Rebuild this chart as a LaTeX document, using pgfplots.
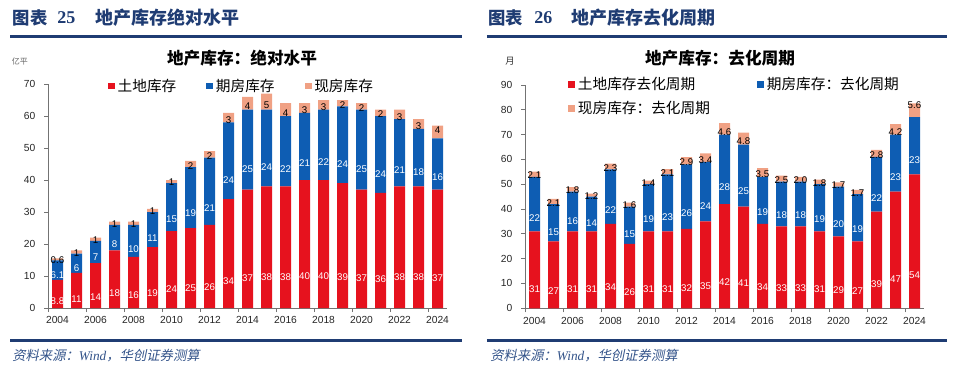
\documentclass[border=0pt]{standalone}
\usepackage{pgfplots}
\pgfplotsset{compat=1.18}
\usepackage{pgfplotstable}
\usepackage{fontspec}
\setmainfont{Liberation Sans}
\newfontfamily\cjk{Noto Sans CJK SC}
\newfontfamily\cjkit[FakeSlant=0.2]{Noto Sans CJK SC}
\newfontfamily\tms{Liberation Serif}
\definecolor{cred}{HTML}{E6121E}
\definecolor{cblue}{HTML}{0E5DB3}
\definecolor{corange}{HTML}{F0A184}
\definecolor{hdr}{HTML}{1F3C73}
\definecolor{foot}{HTML}{34548A}

% exm: label value of the 现房 segment; negative = label set above the bar
\pgfplotstableread{
year land fut ex exm
2004 8.8 6.1 0.6 0.6
2005 11 6 1 1
2006 14 7 1 1
2007 18 8 1 1
2008 16 10 1 1
2009 19 11 1 1
2010 24 15 1 1
2011 25 19 2 2
2012 26 21 2 2
2013 34 24 3 3
2014 37 25 4 4
2015 38 24 5 5
2016 38 22 4 4
2017 40 21 3 3
2018 40 22 3 3
2019 39 24 2 2
2020 37 25 2 2
2021 36 24 2 2
2022 38 21 3 3
2023 38 18 3 3
2024 37 16 4 -4
}\leftdata

\pgfplotstableread{
year land fut ex exm
2004 31 22 2.1 2.1
2005 27 15 2.1 2.1
2006 31 16 1.8 1.8
2007 31 14 1.2 1.2
2008 34 22 2.3 2.3
2009 26 15 1.6 1.6
2010 31 19 1.4 1.4
2011 31 23 2.1 2.1
2012 32 26 2.9 2.9
2013 35 24 3.4 3.4
2014 42 28 4.6 4.6
2015 41 25 4.8 4.8
2016 34 19 3.5 3.5
2017 33 18 2.5 2.5
2018 33 18 2.0 2.0
2019 31 19 1.8 1.8
2020 29 20 1.7 1.7
2021 27 19 1.7 1.7
2022 39 22 2.8 2.8
2023 47 23 4.2 4.2
2024 54 23 5.6 -5.6
}\rightdata

\tikzset{lbl/.style={font=\fontsize{7.3}{8}\selectfont, anchor=center, inner sep=0pt}}

\pgfplotsset{
  panel/.style={
    anchor=south west,
    x=14.25pt,
    xmin=2003.5, xmax=2024.5, ymin=0,
    ybar stacked, bar width=8.25pt,
    axis x line*=bottom, axis y line*=left,
    axis line style={draw=black!55, line width=0.6pt},
    xtick={2004,2006,...,2024},
    minor xtick={2003.5,2005.5,...,2023.5},
    tick align=outside,
    major tick length=3pt, minor tick length=3pt,
    tick style={draw=black!55, line width=0.6pt},
    major x tick style={draw=none},
    ticklabel style={font=\fontsize{7.7}{9}\selectfont, text=black!85},
    x tick label style={/pgf/number format/1000 sep={}},
    yticklabel style={xshift=-3pt},
    /pgf/number format/assume math mode=true,
    clip=false,
    point meta=explicit symbolic,
    nodes near coords,
    legend cell align=left,
    legend image code/.code={\fill[##1,draw=none] (0pt,-2.6pt) rectangle (5.2pt,2.6pt);},
  },
}

\begin{document}
\begin{tikzpicture}
\path[use as bounding box] (0pt,0pt) rectangle (720pt,-282pt);

% headers
\node[anchor=west, inner sep=0pt, text=hdr, font=\cjk\bfseries\fontsize{13}{15}\selectfont] at (9.5pt,-13.1pt) {图表};
\node[anchor=west, inner sep=0pt, text=hdr, font=\tms\bfseries\fontsize{13.5}{15}\selectfont] at (42.8pt,-13.1pt) {25};
\node[anchor=west, inner sep=0pt, text=hdr, font=\cjk\bfseries\fontsize{13.5}{15}\selectfont] at (71.2pt,-13.1pt) {地产库存绝对水平};
\node[anchor=west, inner sep=0pt, text=hdr, font=\cjk\bfseries\fontsize{13}{15}\selectfont] at (366pt,-13.1pt) {图表};
\node[anchor=west, inner sep=0pt, text=hdr, font=\tms\bfseries\fontsize{13.5}{15}\selectfont] at (400.5pt,-13.1pt) {26};
\node[anchor=west, inner sep=0pt, text=hdr, font=\cjk\bfseries\fontsize{13.5}{15}\selectfont] at (428.2pt,-13.1pt) {地产库存去化周期};
\draw[hdr, line width=2.2pt] (7.5pt,-27.7pt) -- (346.5pt,-27.7pt);
\draw[hdr, line width=2.2pt] (365.2pt,-27.7pt) -- (710pt,-27.7pt);

% footers
\draw[hdr, line width=2.2pt] (7.5pt,-255.7pt) -- (346.5pt,-255.7pt);
\draw[hdr, line width=2.2pt] (365.2pt,-255.7pt) -- (710pt,-255.7pt);
\node[anchor=west, inner sep=0pt, text=foot, font=\cjkit\fontsize{10}{12}\selectfont] at (9pt,-266.5pt) {资料来源：{\tms\itshape Wind}，华创证券测算};
\node[anchor=west, inner sep=0pt, text=foot, font=\cjkit\fontsize{10}{12}\selectfont] at (367.5pt,-266.5pt) {资料来源：{\tms\itshape Wind}，华创证券测算};

% panel titles and units
\node[font=\cjk\bfseries\fontsize{12.5}{14}\selectfont] at (181.5pt,-43.5pt) {地产库存：绝对水平};
\node[font=\cjk\bfseries\fontsize{12.5}{14}\selectfont] at (540pt,-43.5pt) {地产库存：去化周期};
\node[font=\cjk\fontsize{6}{7}\selectfont, text=black!60] at (15pt,-46pt) {亿平};
\node[font=\cjk\fontsize{7}{8}\selectfont, text=black!80] at (382.5pt,-46pt) {月};

% left panel
\begin{axis}[panel,
  at={(36pt,-231pt)},
  y=2.4pt, ymax=70, ytick={0,10,...,70},
  legend columns=3,
  legend style={draw=none, fill=none, at={(0.150,0.991)}, anchor=west,
    font=\cjk\fontsize{11}{13}\selectfont, inner sep=0pt,
    /tikz/every even column/.append style={column sep=20.5pt}},
]
\addplot[fill=cred, draw=none,
  every node near coord/.append style={lbl, text=white, yshift={-\pgfplotspointmeta*0.6pt}}]
  table[x=year,y=land,meta=land]{\leftdata};
\addlegendentry{土地库存}
\addplot[fill=cblue, draw=none,
  every node near coord/.append style={lbl, text=white, yshift={-\pgfplotspointmeta*0.6pt}}]
  table[x=year,y=fut,meta=fut]{\leftdata};
\addlegendentry{期房库存}
\addplot[fill=corange, draw=none,
  nodes near coords={\pgfmathparse{abs(\pgfplotspointmeta)}\pgfmathprintnumber{\pgfmathresult}},
  every node near coord/.append style={lbl, text=black,
    yshift={(-0.6*max(\pgfplotspointmeta,0)+1.5*(\pgfplotspointmeta<0))*1pt}}]
  table[x=year,y=ex,meta=exm]{\leftdata};
\addlegendentry{现房库存}
\end{axis}

% right panel
\begin{axis}[panel,
  at={(393.75pt,-231.2pt)},
  y=1.861pt, ymax=90, ytick={0,10,...,90},
  legend columns=2,
  legend style={draw=none, fill=none, at={(0.108,1.046)}, anchor=north west,
    font=\cjk\fontsize{11}{13}\selectfont, inner sep=0pt, row sep=3pt,
    /tikz/every even column/.append style={column sep=33.5pt}},
]
\addplot[fill=cred, draw=none,
  every node near coord/.append style={lbl, text=white, yshift={-\pgfplotspointmeta*0.465pt}}]
  table[x=year,y=land,meta=land]{\rightdata};
\addlegendentry{土地库存去化周期}
\addplot[fill=cblue, draw=none,
  every node near coord/.append style={lbl, text=white, yshift={-\pgfplotspointmeta*0.465pt}}]
  table[x=year,y=fut,meta=fut]{\rightdata};
\addlegendentry{期房库存：去化周期}
\addplot[fill=corange, draw=none,
  nodes near coords={\pgfmathparse{abs(\pgfplotspointmeta)}\pgfmathprintnumber[fixed,fixed zerofill,precision=1]{\pgfmathresult}},
  every node near coord/.append style={lbl, text=black,
    yshift={(-0.465*max(\pgfplotspointmeta,0)+3.5*(\pgfplotspointmeta<0))*1pt}}]
  table[x=year,y=ex,meta=exm]{\rightdata};
\addlegendentry{现房库存：去化周期}
\end{axis}
\end{tikzpicture}
\end{document}
